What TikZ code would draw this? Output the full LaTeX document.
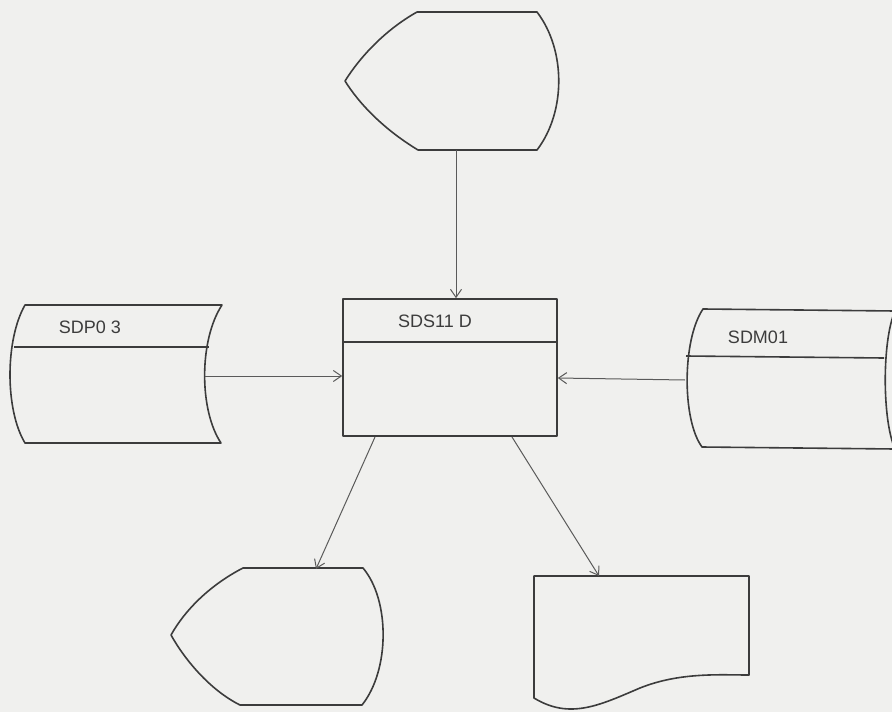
\documentclass[tikz,border=0pt]{standalone}
\usepackage{fontspec}
\setmainfont{Liberation Sans}
\usetikzlibrary{arrows.meta}
\definecolor{paper}{HTML}{F0F0EE}
\definecolor{ink}{HTML}{3C3C3C}
\definecolor{arrink}{HTML}{5A5A5A}
\tikzset{
  shapeline/.style={draw=ink, line width=1.6pt, line join=round},
  arr/.style={draw=arrink, line width=1pt, -{Straight Barb[length=8pt,width=11pt]}},
  lbl/.style={text=ink, font=\fontsize{18}{21}\selectfont, inner sep=0pt},
}
\begin{document}
\begin{tikzpicture}[x=1pt,y=-1pt]
\useasboundingbox (0,0) rectangle (892,712);
\clip (0,0) rectangle (892,712);
\fill[paper] (0,0) rectangle (892,712);

% top display shape
\draw[shapeline] (417,12) -- (537,12) .. controls (566,50) and (566,112) .. (537,150) -- (418,150)
  .. controls (385,130) and (360,105) .. (345,81) .. controls (360,57) and (385,30) .. (417,12) -- cycle;
\coordinate (topout) at (456,150);

% central process box
\node[shapeline, minimum width=214pt, minimum height=137pt, inner sep=0pt] (sds) at (450,367.5) {};
\draw[shapeline] (343,342) -- (557,342);
\node[lbl] (sdslbl) at (435,321) {SDS11 D};

% left storage SDP03
\draw[shapeline] (25,305) -- (222,305) .. controls (199,340) and (199,410) .. (221,443) -- (25,443)
  .. controls (5,410) and (5,340) .. (25,305) -- cycle;
\draw[shapeline] (14,347) -- (209,347);
\node[lbl] (sdplbl) at (90,327) {SDP0 3};
\coordinate (sdpout) at (205,376);

% right storage SDM01
\draw[shapeline] (703,309) -- (895,311) .. controls (882,340) and (882,420) .. (895,449) -- (702,447)
  .. controls (682,420) and (682,340) .. (703,309) -- cycle;
\draw[shapeline] (686,356) -- (884,358);
\node[lbl] (sdmlbl) at (758,337) {SDM01};
\coordinate (sdmout) at (685,380);

% bottom-left display shape
\draw[shapeline] (243,568) -- (363,568) .. controls (390,600) and (390,670) .. (362,705) -- (240,705)
  .. controls (210,690) and (185,660) .. (171,635) .. controls (185,610) and (210,585) .. (243,568) -- cycle;
\coordinate (dispin) at (316,569);

% document shape
\draw[shapeline] (534,576) -- (749,576) -- (749,675) .. controls (720,675) and (680,672) .. (640,688)
  .. controls (600,705) and (570,720) .. (534,698) -- cycle;
\coordinate (docin) at (599,576);

% connectors
\coordinate (sdsb1) at (375,437);
\coordinate (sdsb2) at (512,437);
\draw[arr] (topout) -- (sds.north -| topout);
\draw[arr] (sdpout) -- (sds.west |- sdpout);
\draw[arr] (sdmout) -- (sds.east |- 0,378);
\draw[arr] (sdsb1) -- (dispin);
\draw[arr] (sdsb2) -- (docin);
\end{tikzpicture}
\end{document}
